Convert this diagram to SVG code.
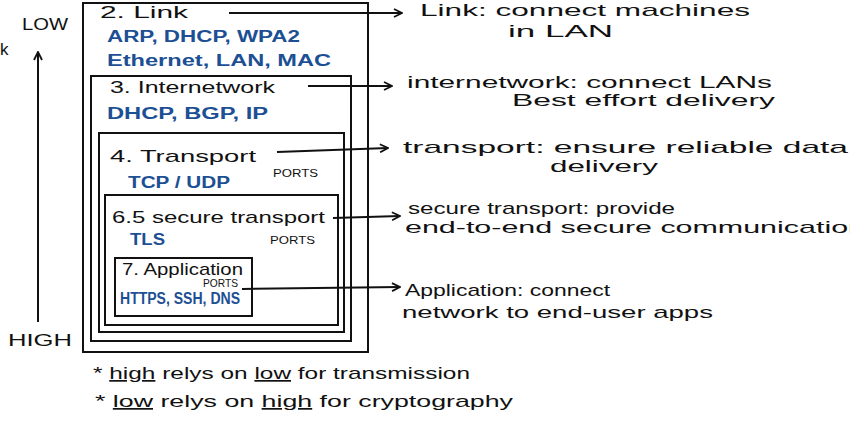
<svg xmlns="http://www.w3.org/2000/svg" width="850" height="424" viewBox="0 0 850 424">
<style>
.box{fill:none;stroke:#111;stroke-width:2}
.t{font-family:"Liberation Sans",Arial,sans-serif;fill:#111;font-size:17px}
.b{font-family:"Liberation Sans",Arial,sans-serif;fill:#1d4f94;font-size:16px;font-weight:bold}
.s{font-family:"Liberation Sans",Arial,sans-serif;fill:#111;font-size:11px}
.c{stroke:#111;stroke-width:2;fill:none}
.u{text-decoration:underline}
</style>
<defs>
<marker id="ah" viewBox="0 0 10 10" refX="9" refY="5" markerWidth="5" markerHeight="5" orient="auto" markerUnits="strokeWidth">
<path d="M1,1 L9,5 L1,9" fill="none" stroke="#111" stroke-width="1.8"/>
</marker>
</defs>
<rect width="850" height="424" fill="#fff"/>

<g id="axis">
<text class="t" x="22" y="30" textLength="46" lengthAdjust="spacingAndGlyphs">LOW</text>
<text class="t" x="0" y="55" font-size="12">k</text>
<line class="c" x1="38" y1="322" x2="38" y2="52" marker-end="url(#ah)"/>
<text class="t" x="8" y="346" textLength="64" lengthAdjust="spacingAndGlyphs">HIGH</text>
</g>

<g id="link">
<rect class="box" x="83" y="3" width="285" height="349"/>
<text class="t" x="100" y="18" textLength="88" lengthAdjust="spacingAndGlyphs">2. Link</text>
<text class="b" x="107" y="42" textLength="193" lengthAdjust="spacingAndGlyphs">ARP, DHCP, WPA2</text>
<text class="b" x="107" y="66" textLength="224" lengthAdjust="spacingAndGlyphs">Ethernet, LAN, MAC</text>
</g>

<g id="internetwork">
<rect class="box" x="91" y="76" width="260" height="265"/>
<text class="t" x="110" y="93" textLength="165" lengthAdjust="spacingAndGlyphs">3. Internetwork</text>
<text class="b" x="107" y="119" textLength="161" lengthAdjust="spacingAndGlyphs">DHCP, BGP, IP</text>
</g>

<g id="transport">
<rect class="box" x="99" y="133" width="245" height="199"/>
<text class="t" x="110" y="162" textLength="146" lengthAdjust="spacingAndGlyphs">4. Transport</text>
<text class="b" x="128" y="188" textLength="102" lengthAdjust="spacingAndGlyphs">TCP / UDP</text>
<text class="s" x="273" y="177" textLength="45" lengthAdjust="spacingAndGlyphs">PORTS</text>
</g>

<g id="secure-transport">
<rect class="box" x="105" y="195" width="233" height="130"/>
<text class="t" x="112" y="223" textLength="213" lengthAdjust="spacingAndGlyphs">6.5 secure transport</text>
<text class="b" x="130" y="245" textLength="35" lengthAdjust="spacingAndGlyphs">TLS</text>
<text class="s" x="270" y="244" textLength="45" lengthAdjust="spacingAndGlyphs">PORTS</text>
</g>

<g id="application">
<rect class="box" x="115" y="258" width="137" height="58"/>
<text class="t" x="122" y="275" font-size="13" textLength="121" lengthAdjust="spacingAndGlyphs">7. Application</text>
<text class="s" x="203" y="287" font-size="7" textLength="35" lengthAdjust="spacingAndGlyphs">PORTS</text>
<text class="b" x="120" y="304" font-size="12" textLength="120" lengthAdjust="spacingAndGlyphs">HTTPS, SSH, DNS</text>
</g>

<g id="connectors">
<line class="c" x1="229" y1="13" x2="402" y2="13" marker-end="url(#ah)"/>
<line class="c" x1="308" y1="86" x2="392" y2="86" marker-end="url(#ah)"/>
<line class="c" x1="277" y1="152" x2="388" y2="148" marker-end="url(#ah)"/>
<line class="c" x1="333" y1="218" x2="400" y2="216" marker-end="url(#ah)"/>
<line class="c" x1="242" y1="289" x2="400" y2="287" marker-end="url(#ah)"/>
</g>

<g id="descriptions">
<text class="t" x="420" y="16" textLength="330" lengthAdjust="spacingAndGlyphs">Link: connect machines</text>
<text class="t" x="508" y="37" textLength="105" lengthAdjust="spacingAndGlyphs">in LAN</text>
<text class="t" x="407" y="88" textLength="365" lengthAdjust="spacingAndGlyphs">internetwork: connect LANs</text>
<text class="t" x="512" y="106" textLength="263" lengthAdjust="spacingAndGlyphs">Best effort delivery</text>
<text class="t" x="403" y="153" textLength="445" lengthAdjust="spacingAndGlyphs">transport: ensure reliable data</text>
<text class="t" x="550" y="172" textLength="108" lengthAdjust="spacingAndGlyphs">delivery</text>
<text class="t" x="408" y="214" textLength="267" lengthAdjust="spacingAndGlyphs">secure transport: provide</text>
<text class="t" x="405" y="233" textLength="460" lengthAdjust="spacingAndGlyphs">end-to-end secure communication</text>
<text class="t" x="405" y="296" textLength="205" lengthAdjust="spacingAndGlyphs">Application: connect</text>
<text class="t" x="402" y="318" textLength="311" lengthAdjust="spacingAndGlyphs">network to end-user apps</text>
</g>

<g id="notes">
<text class="t" x="93" y="379" textLength="377" lengthAdjust="spacingAndGlyphs">* <tspan class="u">high</tspan> relys on <tspan class="u">low</tspan> for transmission</text>
<text class="t" x="95" y="407" textLength="418" lengthAdjust="spacingAndGlyphs">* <tspan class="u">low</tspan> relys on <tspan class="u">high</tspan> for cryptography</text>
</g>
</svg>
